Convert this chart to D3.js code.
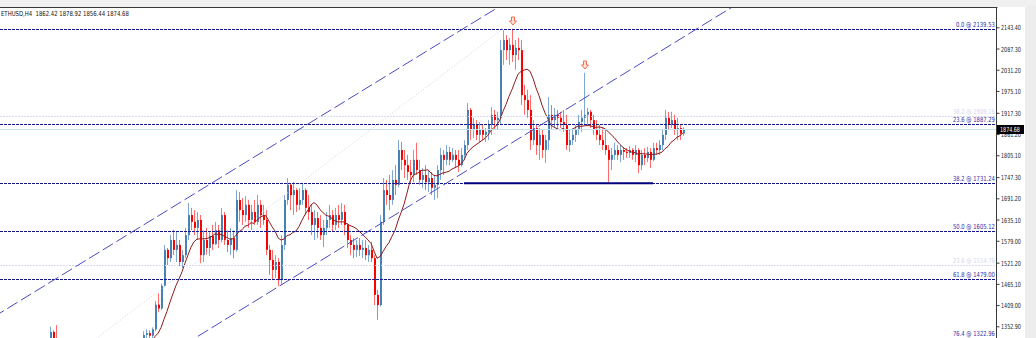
<!DOCTYPE html>
<html>
<head>
<meta charset="utf-8">
<script src="https://cdn.jsdelivr.net/npm/d3@7"></script>
<style>
  body { margin: 0; background: #f0f0f0; }
  svg { display: block; }
  text { font-family: "DejaVu Sans", sans-serif; }
</style>
</head>
<body>
<svg id="chart" width="1036" height="338"></svg>
<script>
// ETHUSD H4 candles, one entry per bar (open = previous close)
var firstOpen = 1298;
var closes = [
  1302,1296,1305,1299,1291,1297,1306,1300,1294,1288,1296,1303,1298,1292,1300,1310,
  1338,1320,1312,
  1305,1298,1290,1284,1292,1299,1294,1286,1280,1276,1284,1291,1288,1282,1278,1286,1293,1298,1290,1296,1302,1297,1305,1300,1308,1303,1310,1312,
  1330,1335,1328,1345,1410,1400,1460,
  1555,1533,1581,1555,1568,1523,1541,1594,1647,1629,
  1613,1634,1541,1581,1560,1592,1570,1607,1581,1647,
  1581,1568,1586,1555,1687,1660,1647,1674,1634,1655,
  1629,1674,1647,1634,1555,1528,1502,1523,1475,1568,
  1687,1727,1700,1713,1674,1687,1713,1666,1655,1621,
  1639,1613,1594,1613,1634,1647,1621,1647,1634,1655,
  1621,1581,1568,1555,1568,1555,1560,1541,1555,1533,
  1436,1409,1629,1713,1700,1687,1740,1727,1819,1793,
  1779,1761,1753,1793,1766,1740,1753,1734,1745,1719,
  1727,1766,1806,1793,1814,1793,1806,1793,1779,1806,
  1832,1925,1872,1885,1859,1872,1859,1867,1885,1912,
  1898,1904,2083,2110,2083,2097,2070,2089,2083,1964,
  1951,1925,1845,1877,1832,1859,1819,1845,1912,1898,
  1912,1904,1893,1885,1832,1845,1859,1872,1893,1904,
  1912,1920,1898,1872,1859,1845,1832,1819,1793,1806,
  1819,1806,1819,1814,1811,1819,1806,1819,1779,1806,
  1798,1814,1793,1824,1819,1832,1859,1904,1885,1898,
  1872,1877,1862.42,1874.68
];
var highs = [
  1310,1306,1312,1308,1300,1308,1314,1309,1302,1298,1305,1311,1306,1301,1309,1318,
  1352,1342,1356,
  1316,1308,1302,1294,1297,1304,1303,1297,1289,1284,1289,1296,1295,1291,1286,1290,1298,1303,1301,1300,1307,1306,1310,1309,1313,1312,1315,1317,
  1340,1345,1342,1350,1420,1440,1466,
  1568,1560,1594,1608,1602,1581,1555,1613,1679,1666,
  1660,1655,1647,1607,1613,1602,1621,1629,1621,1666,
  1655,1607,1613,1607,1713,1708,1692,1697,1687,1674,
  1687,1700,1687,1674,1660,1568,1555,1541,1533,1594,
  1700,1745,1732,1734,1718,1718,1732,1718,1700,1674,
  1660,1655,1647,1634,1655,1674,1660,1666,1674,1679,
  1674,1626,1594,1586,1581,1586,1581,1581,1568,1576,
  1541,1449,1647,1745,1740,1753,1766,1779,1845,1840,
  1819,1806,1793,1819,1838,1793,1771,1779,1766,1761,
  1753,1779,1824,1819,1832,1827,1824,1819,1819,1824,
  1845,1943,1930,1904,1898,1893,1885,1877,1898,1933,
  1925,1920,2110,2136,2123,2115,2139.53,2110,2115,2110,
  1991,1978,1964,1898,1885,1877,1872,1859,1959,1938,
  1930,1925,1920,1925,1912,1872,1877,1885,1912,1925,
  2023,1930,1925,1912,1898,1885,1877,1872,1832,1824,
  1838,1832,1832,1827,1824,1830,1824,1832,1824,1819,
  1824,1827,1824,1838,1838,1845,1872,1925,1920,1920,
  1912,1904,1885,1878.92
];
var lows = [
  1292,1288,1294,1290,1282,1287,1296,1290,1285,1280,1286,1293,1288,1283,1290,1298,
  1300,1310,1305,
  1298,1290,1283,1277,1279,1287,1286,1280,1272,1268,1271,1279,1282,1275,1270,1274,1281,1288,1284,1286,1291,1290,1292,1294,1296,1297,1299,1305,
  1308,1320,1322,1322,1340,1390,1396,
  1458,1515,1523,1541,1523,1512,1507,1533,1581,1607,
  1594,1581,1520,1523,1541,1539,1555,1568,1560,1575,
  1568,1549,1541,1533,1550,1629,1621,1629,1613,1607,
  1621,1621,1613,1621,1541,1489,1475,1481,1459,1462,
  1555,1674,1660,1647,1655,1660,1674,1647,1634,1594,
  1581,1586,1581,1562,1594,1613,1602,1607,1613,1621,
  1594,1560,1541,1533,1536,1539,1533,1528,1523,1523,
  1409,1370,1405,1621,1674,1660,1674,1700,1720,1766,
  1745,1740,1732,1734,1753,1727,1719,1713,1708,1700,
  1687,1692,1740,1753,1779,1779,1787,1771,1761,1775,
  1793,1819,1845,1851,1845,1840,1845,1840,1845,1859,
  1872,1872,1885,2044,2057,2044,2052,2031,2057,1938,
  1912,1904,1819,1832,1806,1793,1798,1785,1819,1872,
  1877,1872,1877,1867,1819,1814,1832,1840,1859,1867,
  1885,1885,1877,1859,1845,1832,1819,1806,1734,1766,
  1793,1793,1787,1793,1798,1798,1793,1787,1758,1766,
  1779,1787,1771,1790,1806,1806,1819,1845,1872,1877,
  1859,1845,1845,1856.44
];
var maPeriod = 11;

// price axis labels
var tickLabels = ["2143.40","2087.30","2031.20","1975.10","1917.30","1861.20","1805.10",
  "1747.30","1691.20","1635.10","1579.00","1521.20","1465.10","1409.00","1352.90"];

// fibonacci retracement (main) and a second faint one
var fibLevels = ["0.0","23.6","38.2","50.0","61.8","76.4"];
var fibPrices = [2139.53,1887.29,1731.24,1605.12,1479.00,1322.96];
var fib2Levels = ["38.2","23.6"];
var fib2Prices = [1909.16,1514.76];
var fibTrend = [[-10,1070.7],[167,2139.53]];

// channel lines, each as two anchor points [bar, price]
var channelUpper = [[0,1391.2],[160,2170.1]];
var channelLower = [[66,1329.9],[220,2082.6]];

// support line [fromBar, toBar, price]
var support = [154,217,1731.24];

// arrow marks
var arrowBars = [170,194];
var arrowPrices = [2149.5,2033.2];

var title = "ETHUSD,H4  1862.42 1878.92 1856.44 1874.68";
var lastPrice = 1874.68;

var opens = closes.map(function(c, i) { return i ? closes[i - 1] : firstOpen; });

var svg = d3.select("#chart");
var axisX = 997;

var x = d3.scaleLinear().domain([0, closes.length - 1]).range([2, 683]);
var y = d3.scaleLinear().domain([1352.90, 2143.40]).range([326.3, 27.3]);

// squeeze a text horizontally so it is `w` px wide, anchored at (ax, ay)
function fit(text, ax, ay, w, anchor) {
  var len = text.node().getComputedTextLength();
  var s = Math.min(1, w / len);
  var left = anchor === "end" ? ax - len * s : ax;
  text.attr("x", 0).attr("y", 0).attr("text-anchor", null)
    .attr("transform", "translate(" + left + "," + ay + ") scale(" + s + ",1)");
}

// frame
svg.append("rect").attr("width", 1036).attr("height", 338).attr("fill", "#f0f0f0");
svg.append("rect").attr("x", 0).attr("y", 7).attr("width", 1025).attr("height", 331).attr("fill", "#fff");
svg.append("rect").attr("x", 1025).attr("y", 5).attr("width", 24).attr("height", 345).attr("rx", 7).attr("fill", "#ededed");

svg.append("defs").append("clipPath").attr("id", "plot")
  .append("rect").attr("x", 0).attr("y", 8).attr("width", axisX).attr("height", 330);

var g = svg.append("g").attr("clip-path", "url(#plot)");

function crisp(v) { return Math.round(v) + 0.5; }

// candles
var up = function(i) { return closes[i] >= opens[i]; };
var bars = g.append("g").selectAll("g").data(d3.range(closes.length)).enter().append("g");
bars.append("line")
  .attr("x1", function(i) { return Math.round(x(i)) + 0.5; })
  .attr("x2", function(i) { return Math.round(x(i)) + 0.5; })
  .attr("y1", function(i) { return y(highs[i]); })
  .attr("y2", function(i) { return y(lows[i]); })
  .attr("stroke", function(i) { return up(i) ? "#7fa8d0" : "#ff6a6a"; });
bars.append("rect")
  .attr("x", function(i) { return Math.round(x(i)); })
  .attr("width", 2)
  .attr("y", function(i) { return y(Math.max(opens[i], closes[i])); })
  .attr("height", function(i) { return Math.max(1, Math.abs(y(opens[i]) - y(closes[i]))); })
  .attr("fill", function(i) { return up(i) ? "#4682b4" : "#ff0000"; });

// moving average
var ma = closes.map(function(c, i) {
  return i < maPeriod - 1 ? null : d3.mean(closes.slice(i - maPeriod + 1, i + 1));
});
g.append("path")
  .datum(ma)
  .attr("fill", "none")
  .attr("stroke", "#8e1b1b")
  .attr("stroke-width", 1)
  .attr("d", d3.line()
    .defined(function(d) { return d != null; })
    .x(function(d, i) { return x(i); })
    .y(function(d) { return y(d); }));

// faint second fib levels
g.selectAll(".fib2").data(fib2Prices).enter().append("line")
  .attr("x1", 0).attr("x2", axisX)
  .attr("y1", function(d) { return crisp(y(d)); })
  .attr("y2", function(d) { return crisp(y(d)); })
  .attr("stroke", "#dadaf2").attr("stroke-dasharray", "2,1");

// bid line
g.append("line").attr("x1", 0).attr("x2", axisX)
  .attr("y1", crisp(y(lastPrice))).attr("y2", crisp(y(lastPrice)))
  .attr("stroke", "#c4e2f0");

// fib levels
g.selectAll(".fib").data(fibPrices).enter().append("line")
  .attr("x1", 0).attr("x2", axisX)
  .attr("y1", function(d) { return crisp(y(d)); })
  .attr("y2", function(d) { return crisp(y(d)); })
  .attr("stroke", "#14148c").attr("stroke-dasharray", "3,1");

// fib trend line
g.append("line")
  .attr("x1", x(fibTrend[0][0])).attr("y1", y(fibTrend[0][1]))
  .attr("x2", x(fibTrend[1][0])).attr("y2", y(fibTrend[1][1]))
  .attr("stroke", "#cfcfea").attr("stroke-dasharray", "1,2");

// channel rays
function ray(pts) {
  var x0 = x(pts[0][0]), y0 = y(pts[0][1]), x1 = x(pts[1][0]), y1 = y(pts[1][1]);
  var k = (y1 - y0) / (x1 - x0);
  return [[-20, y0 + k * (-20 - x0)], [axisX + 20, y0 + k * (axisX + 20 - x0)]];
}
[channelUpper, channelLower].forEach(function(c) {
  var r = ray(c);
  g.append("line")
    .attr("x1", r[0][0]).attr("y1", r[0][1]).attr("x2", r[1][0]).attr("y2", r[1][1])
    .attr("stroke", "#4a4ac4").attr("stroke-dasharray", "12,4");
});

// support line
g.append("line")
  .attr("x1", x(support[0])).attr("x2", x(support[1]))
  .attr("y1", y(support[2])).attr("y2", y(support[2]))
  .attr("stroke", "#000080").attr("stroke-width", 2);

// arrows
g.selectAll(".arrow").data(arrowBars).enter().append("path")
  .attr("transform", function(d, i) { return "translate(" + (x(d) + 1) + "," + y(arrowPrices[i]) + ")"; })
  .attr("d", "M-1.5,-8H1.5V-4H3.5L0,0L-3.5,-4H-1.5Z")
  .attr("fill", "#ffe4dc").attr("stroke", "#f26a50").attr("stroke-width", 1);

// fib labels
fibPrices.forEach(function(p, i) {
  var s = fibLevels[i] + " @ " + p.toFixed(2);
  var t = svg.append("text").attr("font-size", 7).attr("fill", "#3030a8").text(s);
  fit(t, 995, y(p) - 2, s.length * 3, "end");
});
fib2Prices.forEach(function(p, i) {
  var s = fib2Levels[i] + " @ " + p.toFixed(2);
  var t = svg.append("text").attr("font-size", 7).attr("fill", "#d6d6f0").text(s);
  fit(t, 995, y(p) - 2, s.length * 3, "end");
});

// top border and price axis
svg.append("line").attr("x1", 0).attr("x2", axisX + 0.5).attr("y1", 7.5).attr("y2", 7.5).attr("stroke", "#3a3a3a");
svg.append("line").attr("x1", axisX - 0.5).attr("x2", axisX - 0.5).attr("y1", 7).attr("y2", 338).attr("stroke", "#3a3a3a");

var axis = svg.append("g")
  .attr("transform", "translate(" + (axisX - 0.5) + ",0)")
  .call(d3.axisRight(y)
    .tickValues(tickLabels.map(Number))
    .tickFormat(function(d, i) { return tickLabels[i]; })
    .tickSize(3).tickPadding(1));
axis.select(".domain").remove();
axis.selectAll("line").attr("stroke", "#3a3a3a");
axis.selectAll("text")
  .attr("font-size", 7)
  .attr("font-family", "DejaVu Sans")
  .attr("fill", "#222")
  .each(function() {
    var t = d3.select(this).attr("dy", null);
    fit(t, 4.5, 2.5, 20, "start");
  });

// current price box
svg.append("rect").attr("x", axisX).attr("y", Math.round(y(lastPrice)) - 4)
  .attr("width", 27).attr("height", 9).attr("fill", "#000");
var priceText = svg.append("text").attr("font-size", 7).attr("fill", "#fff").text(lastPrice.toFixed(2));
fit(priceText, axisX + 3, Math.round(y(lastPrice)) + 3, 20, "start");

// title
var titleText = svg.append("text").attr("font-size", 7).attr("fill", "#111")
  .attr("xml:space", "preserve").text(title);
fit(titleText, 1, 15.5, 128, "start");
</script>
</body>
</html>
